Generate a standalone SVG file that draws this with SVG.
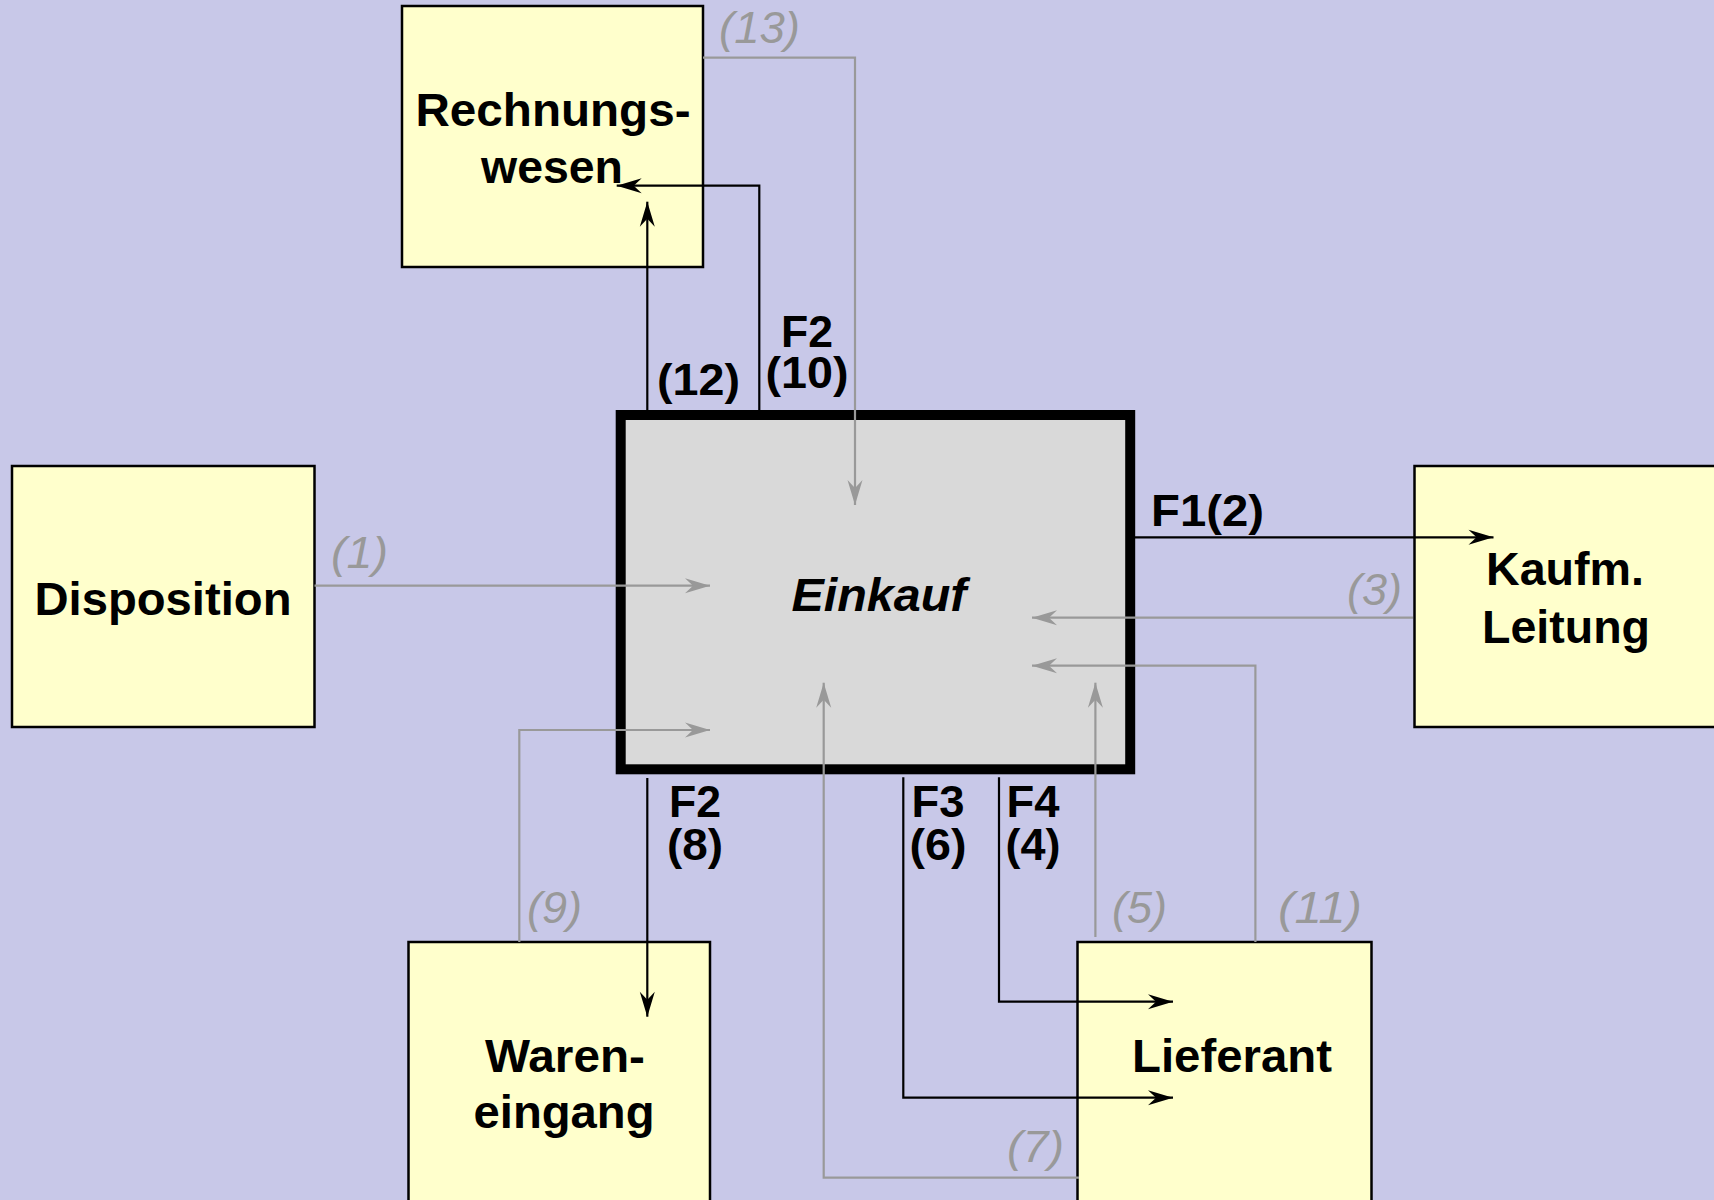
<svg xmlns="http://www.w3.org/2000/svg" width="1714" height="1200" viewBox="0 0 1714 1200">
<style>
.bg{fill:#C8C8E8}
.box{fill:#FFFFCC;stroke:#000;stroke-width:2.5}
.main{fill:#D9D9D9;stroke:#000;stroke-width:10}
.nl{font-family:"Liberation Sans",Arial,sans-serif;font-weight:bold;font-size:46px;fill:#000;text-anchor:middle}
.fl{font-family:"Liberation Sans",Arial,sans-serif;font-weight:bold;font-size:45px;fill:#000}
.gl{font-family:"Liberation Sans",Arial,sans-serif;font-style:italic;font-size:45px;fill:#999}
.cb{fill:none;stroke:#000;stroke-width:2.2;marker-end:url(#ab)}
.cg{fill:none;stroke:#999;stroke-width:2.2;marker-end:url(#ag)}
</style>
<defs>
<marker id="ab" viewBox="-26 -9 28 18" refX="0" refY="0" markerWidth="28" markerHeight="18" markerUnits="userSpaceOnUse" orient="auto">
<path d="M0,0 L-25,-7.5 L-17,0 L-25,7.5 Z" fill="#000"/>
</marker>
<marker id="ag" viewBox="-26 -9 28 18" refX="0" refY="0" markerWidth="28" markerHeight="18" markerUnits="userSpaceOnUse" orient="auto">
<path d="M0,0 L-25,-7.5 L-17,0 L-25,7.5 Z" fill="#999"/>
</marker>
</defs>
<rect class="bg" x="0" y="0" width="1714" height="1200"/>
<g id="rechnungswesen">
<rect class="box" x="402" y="6" width="301" height="261"/>
<text class="nl" x="553" y="126" textLength="275" lengthAdjust="spacingAndGlyphs">Rechnungs-</text>
<text class="nl" x="552" y="183" textLength="142" lengthAdjust="spacingAndGlyphs">wesen</text>
</g>
<g id="disposition">
<rect class="box" x="12" y="466" width="302.5" height="261"/>
<text class="nl" x="163" y="615" textLength="257" lengthAdjust="spacingAndGlyphs">Disposition</text>
</g>
<g id="einkauf">
<rect class="main" x="620.7" y="415" width="509.5" height="354.3"/>
<text class="nl" x="879" y="611" font-style="italic" textLength="175" lengthAdjust="spacingAndGlyphs">Einkauf</text>
</g>
<g id="kaufm-leitung">
<rect class="box" x="1414.5" y="466" width="303" height="261"/>
<text class="nl" x="1565" y="585" textLength="158" lengthAdjust="spacingAndGlyphs">Kaufm.</text>
<text class="nl" x="1566" y="643" textLength="168" lengthAdjust="spacingAndGlyphs">Leitung</text>
</g>
<g id="wareneingang">
<rect class="box" x="408.5" y="942" width="301.5" height="270"/>
<text class="nl" x="565" y="1072" textLength="160" lengthAdjust="spacingAndGlyphs">Waren-</text>
<text class="nl" x="564" y="1128" textLength="181" lengthAdjust="spacingAndGlyphs">eingang</text>
</g>
<g id="lieferant">
<rect class="box" x="1077.5" y="942" width="294" height="270"/>
<text class="nl" x="1232" y="1072" textLength="200" lengthAdjust="spacingAndGlyphs">Lieferant</text>
</g>
<g id="connectors">
<path class="cg" d="M703,57.7 H855 V505"/>
<path class="cb" d="M647.3,410 V201.7"/>
<path class="cb" d="M759.3,410 V185.7 H616.7"/>
<path class="cg" d="M314.5,585.7 H710"/>
<path class="cb" d="M1135,537.3 H1493.5"/>
<path class="cg" d="M1413,617.7 H1032"/>
<path class="cg" d="M1255.4,942 V665.7 H1032"/>
<path class="cg" d="M519.3,942 V730 H710"/>
<path class="cb" d="M647.3,778 V1016.7"/>
<path class="cb" d="M903.3,777.3 V1097.7 H1173"/>
<path class="cb" d="M999,777.3 V1001.7 H1173"/>
<path class="cg" d="M1095.4,937 V682.7"/>
<path class="cg" d="M1079,1177.7 H823.7 V682.7"/>
<text class="gl" x="719" y="43" textLength="81" lengthAdjust="spacingAndGlyphs">(13)</text>
<text class="fl" x="657" y="395" textLength="83" lengthAdjust="spacingAndGlyphs">(12)</text>
<text class="fl" x="807" y="347" text-anchor="middle" textLength="52" lengthAdjust="spacingAndGlyphs">F2</text>
<text class="fl" x="807" y="388" text-anchor="middle" textLength="83" lengthAdjust="spacingAndGlyphs">(10)</text>
<text class="gl" x="331" y="568" textLength="57" lengthAdjust="spacingAndGlyphs">(1)</text>
<text class="fl" x="1151" y="526" textLength="113" lengthAdjust="spacingAndGlyphs">F1(2)</text>
<text class="gl" x="1347" y="605" textLength="55" lengthAdjust="spacingAndGlyphs">(3)</text>
<text class="fl" x="695" y="817" text-anchor="middle" textLength="52" lengthAdjust="spacingAndGlyphs">F2</text>
<text class="fl" x="695" y="860" text-anchor="middle" textLength="56" lengthAdjust="spacingAndGlyphs">(8)</text>
<text class="fl" x="938" y="817" text-anchor="middle" textLength="53" lengthAdjust="spacingAndGlyphs">F3</text>
<text class="fl" x="938" y="860" text-anchor="middle" textLength="57" lengthAdjust="spacingAndGlyphs">(6)</text>
<text class="fl" x="1033" y="817" text-anchor="middle" textLength="53" lengthAdjust="spacingAndGlyphs">F4</text>
<text class="fl" x="1033" y="860" text-anchor="middle" textLength="55" lengthAdjust="spacingAndGlyphs">(4)</text>
<text class="gl" x="527" y="923" textLength="55" lengthAdjust="spacingAndGlyphs">(9)</text>
<text class="gl" x="1112" y="923" textLength="55" lengthAdjust="spacingAndGlyphs">(5)</text>
<text class="gl" x="1278" y="923" textLength="84" lengthAdjust="spacingAndGlyphs">(11)</text>
<text class="gl" x="1007" y="1162" textLength="57" lengthAdjust="spacingAndGlyphs">(7)</text>
</g>
</svg>
